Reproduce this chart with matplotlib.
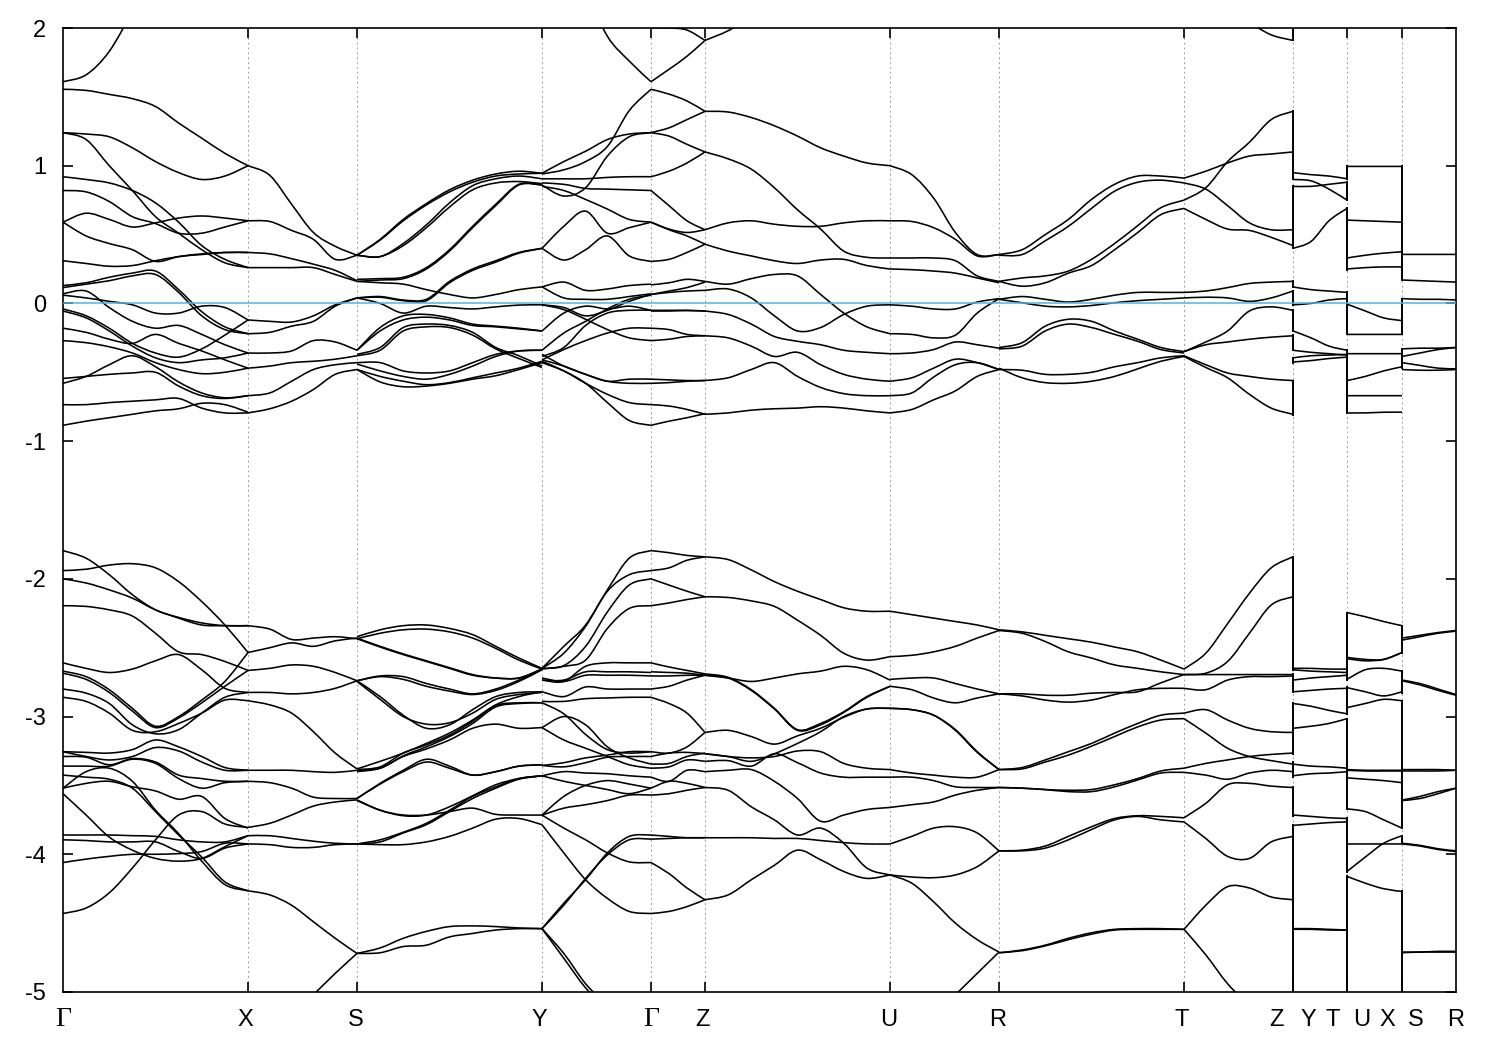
import matplotlib
matplotlib.use('Agg')
import matplotlib.pyplot as plt
from matplotlib.path import Path
from matplotlib.patches import PathPatch
import numpy as np

nan = float('nan')

# k-path, high symmetry points (same scale as the plot width)
kpath = [0, 185, 294, 479, 588, 642, 827, 936, 1121, 1230, 1284, 1339, 1393]
label_text = ['Γ', 'X', 'S', 'Y', 'Γ', 'Z', 'U', 'R', 'T', 'Z', 'Y', 'T', 'U', 'X', 'S', 'R']
label_k = [0, 182, 293, 476, 588, 640, 826, 935, 1119, 1214, 1245, 1270, 1299, 1324, 1353, 1393]
energy_ticks = [2, 1, 0, -1, -2, -3, -4, -5]

# bands read per path segment, eV
gamma_x = [
    [1.61, 1.66, 1.83, 2.12],
    [1.555, 1.547, 1.518, 1.487, 1.43, 1.31, 1.20, 1.09, 1.00],
    [1.24, 1.23, 1.21, 1.13, 1.03, 0.95, 0.90, 0.925, 1.00],
    [1.24, 1.19, 1.00, 0.82, 0.63, 0.51, 0.39, 0.295, 0.26],
    [0.92, 0.90, 0.875, 0.82, 0.73, 0.59, 0.42, 0.32, 0.26],
    [0.82, 0.81, 0.74, 0.63, 0.58, 0.51, 0.51, 0.555, 0.60],
    [0.59, 0.655, 0.61, 0.555, 0.585, 0.62, 0.635, 0.62, 0.60],
    [0.59, 0.49, 0.435, 0.39, 0.305, 0.34, 0.355, 0.37, 0.37],
    [0.31, 0.29, 0.27, 0.275, 0.31, 0.34, 0.36, 0.37, 0.37],
    [0.13, 0.15, 0.19, 0.22, 0.235, 0.10, -0.06, -0.17, -0.22],
    [0.115, 0.14, 0.165, 0.20, 0.21, 0.08, -0.09, -0.19, -0.22],
    [0.07, 0.09, -0.03, -0.13, -0.18, -0.16, -0.225, -0.30, -0.36],
    [0.06, 0.04, 0.015, -0.01, -0.07, -0.07, -0.02, -0.03, -0.12],
    [-0.04, -0.09, -0.18, -0.29, -0.36, -0.39, -0.33, -0.23, -0.12],
    [-0.055, -0.105, -0.20, -0.31, -0.395, -0.43, -0.41, -0.395, -0.36],
    [-0.18, -0.21, -0.26, -0.29, -0.225, -0.29, -0.345, -0.41, -0.47],
    [-0.27, -0.285, -0.315, -0.36, -0.43, -0.48, -0.51, -0.50, -0.47],
    [-0.58, -0.53, -0.445, -0.38, -0.46, -0.57, -0.65, -0.685, -0.67],
    [-0.545, -0.53, -0.515, -0.505, -0.50, -0.60, -0.67, -0.69, -0.67],
    [-0.735, -0.735, -0.72, -0.71, -0.70, -0.69, -0.76, -0.795, -0.795],
    [-0.885, -0.855, -0.83, -0.805, -0.78, -0.765, -0.725, -0.735, -0.79],
    [-1.795, -1.85, -1.97, -2.115, -2.225, -2.28, -2.32, -2.34, -2.34],
    [-1.94, -1.93, -1.90, -1.89, -1.92, -2.02, -2.165, -2.335, -2.535],
    [-2.0, -2.03, -2.08, -2.14, -2.225, -2.285, -2.335, -2.34, -2.34],
    [-2.195, -2.20, -2.225, -2.27, -2.395, -2.53, -2.55, -2.60, -2.665],
    [-2.61, -2.65, -2.68, -2.655, -2.595, -2.55, -2.66, -2.795, -2.825],
    [-2.67, -2.71, -2.805, -2.94, -3.07, -3.0, -2.88, -2.745, -2.535],
    [-2.685, -2.73, -2.825, -2.96, -3.08, -3.01, -2.90, -2.78, -2.665],
    [-2.80, -2.83, -2.905, -3.06, -3.125, -3.095, -2.975, -2.86, -2.825],
    [-2.86, -2.89, -2.975, -3.10, -3.11, -3.05, -2.975, -2.88, -2.885],
    [-3.255, -3.26, -3.265, -3.24, -3.17, -3.22, -3.29, -3.37, -3.39],
    [-3.255, -3.29, -3.315, -3.29, -3.225, -3.25, -3.33, -3.39, -3.39],
    [-3.29, -3.295, -3.35, -3.305, -3.33, -3.425, -3.45, -3.47, -3.47],
    [-3.36, -3.36, -3.36, -3.31, -3.34, -3.45, -3.52, -3.48, -3.47],
    [-3.52, -3.40, -3.375, -3.47, -3.68, -3.85, -4.05, -4.22, -4.265],
    [-3.425, -3.44, -3.455, -3.52, -3.69, -3.86, -4.02, -4.20, -4.265],
    [-3.52, -3.485, -3.47, -3.51, -3.54, -3.60, -3.58, -3.74, -3.81],
    [-3.56, -3.715, -3.875, -3.97, -4.03, -4.05, -4.03, -3.945, -3.865],
    [-4.43, -4.39, -4.28, -4.10, -3.895, -3.715, -3.69, -3.78, -3.805],
    [-3.86, -3.86, -3.86, -3.865, -3.87, -3.895, -3.91, -3.91, -3.865],
    [-3.895, -3.90, -3.91, -3.91, -3.91, -3.98, -4.03, -3.955, -3.925],
    [-4.06, -4.035, -4.015, -4.0, -4.0, -3.995, -3.98, -3.92, -3.925],
]

x_s = [
    [1.00, 0.93, 0.72, 0.515, 0.415, 0.35],
    [0.60, 0.595, 0.53, 0.465, 0.32, 0.35],
    [0.37, 0.36, 0.325, 0.285, 0.24, 0.165],
    [0.26, 0.26, 0.26, 0.26, 0.21, 0.16],
    [-0.12, -0.13, -0.135, -0.09, -0.01, 0.04],
    [-0.22, -0.21, -0.165, -0.13, -0.02, 0.04],
    [-0.36, -0.36, -0.345, -0.27, -0.28, -0.34],
    [-0.47, -0.455, -0.43, -0.42, -0.405, -0.38],
    [-0.67, -0.65, -0.565, -0.48, -0.445, -0.43],
    [-0.795, -0.765, -0.71, -0.625, -0.515, -0.48],
    [-2.34, -2.365, -2.44, -2.43, -2.42, -2.435],
    [-2.535, -2.50, -2.465, -2.49, -2.45, -2.43],
    [-2.665, -2.65, -2.625, -2.635, -2.68, -2.74],
    [-2.825, -2.825, -2.835, -2.825, -2.795, -2.74],
    [-2.885, -2.915, -2.975, -3.11, -3.265, -3.38],
    [-3.39, -3.39, -3.39, -3.40, -3.405, -3.39],
    [-3.47, -3.48, -3.52, -3.585, -3.595, -3.595],
    [-3.805, -3.775, -3.715, -3.65, -3.62, -3.605],
    [-3.865, -3.865, -3.885, -3.905, -3.92, -3.925],
    [-3.925, -3.93, -3.95, -3.95, -3.93, -3.925],
    [-4.265, -4.295, -4.37, -4.49, -4.61, -4.72],
    [nan, nan, nan, -5.02, -4.865, -4.72],
]

s_y = [
    [0.35, 0.465, 0.61, 0.725, 0.825, 0.895, 0.94, 0.96, 0.945],
    [0.35, 0.46, 0.60, 0.715, 0.81, 0.88, 0.925, 0.94, 0.945],
    [0.35, 0.34, 0.435, 0.57, 0.73, 0.855, 0.905, 0.925, 0.905],
    [0.35, 0.34, 0.42, 0.55, 0.70, 0.825, 0.875, 0.885, 0.87],
    [0.175, 0.18, 0.19, 0.26, 0.39, 0.56, 0.72, 0.865, 0.86],
    [0.16, 0.17, 0.18, 0.25, 0.38, 0.55, 0.71, 0.86, 0.86],
    [0.16, 0.15, 0.14, 0.10, 0.065, 0.04, 0.065, 0.10, 0.12],
    [0.04, 0.05, 0.025, 0.03, 0.16, 0.25, 0.31, 0.37, 0.40],
    [0.04, 0.045, 0.02, 0.02, 0.15, 0.24, 0.30, 0.365, 0.40],
    [0.04, 0.0, -0.07, -0.02, -0.03, -0.04, -0.025, -0.012, -0.01],
    [-0.34, -0.175, -0.09, -0.08, -0.105, -0.15, -0.165, -0.18, -0.20],
    [-0.34, -0.20, -0.12, -0.10, -0.12, -0.16, -0.17, -0.185, -0.20],
    [-0.37, -0.32, -0.175, -0.15, -0.16, -0.21, -0.32, -0.38, -0.455],
    [-0.38, -0.34, -0.20, -0.17, -0.175, -0.23, -0.33, -0.40, -0.465],
    [-0.44, -0.49, -0.53, -0.55, -0.515, -0.455, -0.385, -0.345, -0.34],
    [-0.43, -0.43, -0.49, -0.505, -0.49, -0.43, -0.37, -0.345, -0.34],
    [-0.48, -0.53, -0.565, -0.59, -0.575, -0.54, -0.505, -0.47, -0.42],
    [-0.48, -0.57, -0.605, -0.60, -0.58, -0.55, -0.525, -0.48, -0.43],
    [-2.42, -2.37, -2.34, -2.335, -2.36, -2.405, -2.49, -2.575, -2.65],
    [-2.435, -2.395, -2.37, -2.365, -2.385, -2.43, -2.505, -2.59, -2.655],
    [-2.435, -2.495, -2.55, -2.60, -2.65, -2.70, -2.72, -2.72, -2.655],
    [-2.43, -2.49, -2.545, -2.595, -2.645, -2.695, -2.72, -2.72, -2.655],
    [-2.74, -2.705, -2.71, -2.76, -2.80, -2.835, -2.80, -2.735, -2.655],
    [-2.74, -2.71, -2.73, -2.78, -2.815, -2.84, -2.81, -2.745, -2.66],
    [-2.74, -2.855, -2.99, -3.085, -3.06, -2.95, -2.855, -2.825, -2.82],
    [-2.745, -2.875, -3.0, -3.055, -3.045, -2.975, -2.875, -2.84, -2.825],
    [-3.38, -3.325, -3.265, -3.195, -3.12, -3.025, -2.915, -2.855, -2.82],
    [-3.39, -3.375, -3.285, -3.22, -3.145, -3.05, -2.93, -2.905, -2.90],
    [-3.385, -3.365, -3.265, -3.205, -3.135, -3.035, -2.92, -2.90, -2.90],
    [-3.40, -3.375, -3.29, -3.235, -3.17, -3.085, -3.055, -3.085, -3.08],
    [-3.595, -3.485, -3.39, -3.31, -3.36, -3.425, -3.40, -3.36, -3.35],
    [-3.595, -3.49, -3.40, -3.33, -3.375, -3.425, -3.40, -3.36, -3.35],
    [-3.605, -3.68, -3.715, -3.715, -3.69, -3.665, -3.71, -3.715, -3.715],
    [-3.61, -3.68, -3.72, -3.715, -3.655, -3.575, -3.495, -3.45, -3.43],
    [-3.925, -3.895, -3.84, -3.775, -3.68, -3.58, -3.51, -3.45, -3.43],
    [-3.925, -3.91, -3.845, -3.785, -3.69, -3.595, -3.52, -3.455, -3.43],
    [-3.925, -3.93, -3.93, -3.91, -3.87, -3.81, -3.745, -3.74, -3.785],
    [-4.72, -4.715, -4.67, -4.66, -4.60, -4.575, -4.55, -4.54, -4.54],
    [-4.72, -4.68, -4.61, -4.56, -4.525, -4.52, -4.525, -4.535, -4.54],
]

y_gamma = [
    [nan, nan, 2.28, 1.94, 1.76, 1.61],
    [0.945, 1.03, 1.105, 1.19, 1.23, 1.24],
    [0.94, 0.97, 1.03, 1.14, 1.40, 1.555],
    [0.86, 0.78, 0.84, 1.07, 1.21, 1.24],
    [0.875, 0.865, 0.835, 0.83, 0.825, 0.82],
    [0.905, 0.905, 0.905, 0.915, 0.92, 0.92],
    [0.85, 0.82, 0.755, 0.685, 0.61, 0.59],
    [0.40, 0.56, 0.67, 0.51, 0.55, 0.59],
    [0.40, 0.315, 0.39, 0.49, 0.345, 0.305],
    [0.12, 0.155, 0.095, 0.105, 0.13, 0.14],
    [0.12, 0.04, 0.03, 0.03, 0.05, 0.07],
    [-0.01, -0.03, -0.09, -0.05, 0.015, 0.065],
    [-0.20, -0.07, -0.02, -0.04, -0.02, -0.05],
    [-0.34, -0.215, -0.13, -0.04, 0.03, 0.06],
    [-0.385, -0.32, -0.16, -0.07, -0.05, -0.05],
    [-0.41, -0.335, -0.27, -0.215, -0.18, -0.18],
    [-0.01, -0.045, -0.115, -0.19, -0.25, -0.27],
    [-0.41, -0.455, -0.515, -0.565, -0.55, -0.55],
    [-0.37, -0.455, -0.515, -0.565, -0.58, -0.58],
    [-0.42, -0.49, -0.58, -0.66, -0.72, -0.735],
    [-0.43, -0.49, -0.58, -0.72, -0.85, -0.885],
    [-2.65, -2.49, -2.335, -2.08, -1.85, -1.795],
    [-2.65, -2.54, -2.345, -2.09, -1.97, -1.94],
    [-2.65, -2.63, -2.49, -2.24, -2.045, -2.0],
    [-2.655, -2.635, -2.59, -2.36, -2.215, -2.195],
    [-2.735, -2.745, -2.635, -2.61, -2.61, -2.61],
    [-2.735, -2.735, -2.675, -2.675, -2.675, -2.68],
    [-2.72, -2.745, -2.70, -2.70, -2.70, -2.705],
    [-2.82, -2.855, -2.785, -2.80, -2.80, -2.80],
    [-2.89, -2.89, -2.87, -2.865, -2.86, -2.86],
    [-2.90, -2.98, -3.13, -3.24, -3.265, -3.255],
    [-3.08, -3.0, -3.06, -3.22, -3.30, -3.345],
    [-3.08, -3.17, -3.23, -3.29, -3.35, -3.375],
    [-3.355, -3.335, -3.30, -3.28, -3.255, -3.255],
    [-3.355, -3.365, -3.335, -3.295, -3.29, -3.29],
    [-3.43, -3.40, -3.41, -3.415, -3.43, -3.44],
    [-3.43, -3.47, -3.50, -3.53, -3.56, -3.52],
    [-3.715, -3.58, -3.50, -3.465, -3.49, -3.52],
    [-3.715, -3.665, -3.64, -3.61, -3.57, -3.57],
    [-3.715, -3.81, -3.895, -3.99, -4.055, -4.06],
    [-3.785, -3.99, -4.185, -4.32, -4.415, -4.43],
    [-4.54, -4.355, -4.185, -3.99, -3.87, -3.86],
    [-4.54, -4.37, -4.175, -4.005, -3.895, -3.89],
    [-4.54, -4.72, -4.94, -5.1],
    [-4.54, -4.755, -4.97, -5.13],
]

gamma_z = [
    [1.555, 1.52, 1.47, 1.395],
    [1.24, 1.275, 1.335, 1.395],
    [1.24, 1.215, 1.155, 1.10],
    [0.92, 0.96, 1.02, 1.10],
    [0.82, 0.71, 0.60, 0.535],
    [0.59, 0.54, 0.515, 0.535],
    [0.59, 0.535, 0.49, 0.43],
    [0.305, 0.32, 0.37, 0.43],
    [1.61, 1.70, 1.795, 1.91],
    [2.0, 2.0, 1.985, 1.91],
    [0.135, 0.15, 0.175, 0.16],
    [0.065, 0.09, 0.115, 0.155],
    [0.065, 0.08, 0.09, 0.095],
    [-0.05, -0.05, -0.05, -0.055],
    [-0.055, -0.055, -0.052, -0.055],
    [-0.18, -0.19, -0.225, -0.235],
    [-0.27, -0.26, -0.24, -0.235],
    [-0.55, -0.555, -0.56, -0.56],
    [-0.58, -0.575, -0.565, -0.56],
    [-0.735, -0.745, -0.77, -0.805],
    [-0.885, -0.855, -0.83, -0.80],
    [-1.795, -1.81, -1.83, -1.84],
    [-1.94, -1.92, -1.865, -1.84],
    [-2.0, -2.045, -2.09, -2.13],
    [-2.195, -2.175, -2.15, -2.13],
    [-2.61, -2.64, -2.665, -2.69],
    [-2.675, -2.68, -2.685, -2.70],
    [-2.705, -2.705, -2.70, -2.70],
    [-2.80, -2.78, -2.735, -2.70],
    [-2.86, -2.905, -2.975, -3.115],
    [-3.255, -3.265, -3.22, -3.115],
    [-3.29, -3.265, -3.26, -3.27],
    [-3.345, -3.34, -3.29, -3.265],
    [-3.375, -3.365, -3.315, -3.325],
    [-3.44, -3.47, -3.39, -3.40],
    [-3.52, -3.47, -3.485, -3.515],
    [-3.57, -3.56, -3.535, -3.515],
    [-3.86, -3.87, -3.88, -3.88],
    [-3.89, -3.885, -3.88, -3.88],
    [-4.06, -4.14, -4.245, -4.33],
    [-4.43, -4.415, -4.38, -4.33],
]

z_u = [
    [1.91, 1.98, 2.08],
    [1.395, 1.39, 1.35, 1.29, 1.215, 1.13, 1.07, 1.02, 1.00],
    [1.10, 1.05, 0.975, 0.84, 0.68, 0.54, 0.38, 0.335, 0.33],
    [0.535, 0.585, 0.60, 0.575, 0.56, 0.56, 0.585, 0.60, 0.60],
    [0.43, 0.38, 0.345, 0.31, 0.29, 0.315, 0.32, 0.275, 0.25],
    [0.16, 0.14, 0.18, 0.21, 0.20, 0.065, -0.07, -0.17, -0.22],
    [0.095, 0.105, 0.04, -0.09, -0.20, -0.175, -0.08, -0.02, -0.01],
    [-0.055, -0.08, -0.15, -0.24, -0.275, -0.30, -0.34, -0.355, -0.365],
    [-0.235, -0.25, -0.31, -0.385, -0.355, -0.445, -0.515, -0.55, -0.565],
    [-0.56, -0.54, -0.48, -0.43, -0.53, -0.61, -0.655, -0.67, -0.67],
    [-0.805, -0.795, -0.775, -0.765, -0.76, -0.75, -0.76, -0.78, -0.795],
    [-1.84, -1.86, -1.935, -2.02, -2.09, -2.15, -2.21, -2.235, -2.235],
    [-2.13, -2.135, -2.16, -2.20, -2.30, -2.41, -2.54, -2.59, -2.565],
    [-2.69, -2.715, -2.805, -2.94, -3.095, -3.05, -2.965, -2.855, -2.78],
    [-2.70, -2.72, -2.81, -2.945, -3.10, -3.06, -2.97, -2.86, -2.78],
    [-2.70, -2.72, -2.745, -2.72, -2.69, -2.67, -2.635, -2.66, -2.735],
    [-3.115, -3.10, -3.145, -3.20, -3.14, -3.085, -3.005, -2.945, -2.94],
    [-3.27, -3.29, -3.325, -3.27, -3.195, -3.11, -3.0, -2.945, -2.94],
    [-3.325, -3.32, -3.36, -3.27, -3.335, -3.41, -3.44, -3.44, -3.44],
    [-3.27, -3.29, -3.30, -3.29, -3.25, -3.255, -3.34, -3.375, -3.385],
    [-3.40, -3.39, -3.385, -3.47, -3.595, -3.76, -3.715, -3.675, -3.66],
    [-3.515, -3.535, -3.655, -3.75, -3.86, -3.81, -3.92, -4.10, -4.15],
    [-3.88, -3.88, -3.88, -3.885, -3.885, -3.90, -3.915, -3.925, -3.925],
    [-4.33, -4.295, -4.185, -4.08, -3.97, -4.04, -4.125, -4.175, -4.15],
]

u_r = [
    [1.00, 0.935, 0.765, 0.515, 0.355, 0.355],
    [0.60, 0.595, 0.55, 0.465, 0.345, 0.355],
    [0.33, 0.33, 0.33, 0.31, 0.20, 0.16],
    [0.25, 0.245, 0.235, 0.22, 0.185, 0.15],
    [-0.01, -0.02, -0.04, -0.04, 0.01, 0.035],
    [-0.22, -0.225, -0.25, -0.23, -0.07, 0.035],
    [-0.365, -0.36, -0.335, -0.28, -0.30, -0.325],
    [-0.565, -0.54, -0.47, -0.405, -0.43, -0.48],
    [-0.67, -0.65, -0.535, -0.445, -0.43, -0.48],
    [-0.795, -0.77, -0.70, -0.635, -0.53, -0.48],
    [-2.235, -2.26, -2.285, -2.31, -2.335, -2.37],
    [-2.565, -2.555, -2.53, -2.49, -2.43, -2.375],
    [-2.73, -2.72, -2.72, -2.76, -2.80, -2.835],
    [-2.78, -2.805, -2.865, -2.90, -2.865, -2.835],
    [-2.94, -2.95, -2.99, -3.095, -3.255, -3.385],
    [-2.94, -2.95, -2.99, -3.10, -3.26, -3.385],
    [-3.385, -3.41, -3.425, -3.44, -3.44, -3.385],
    [-3.44, -3.44, -3.465, -3.51, -3.515, -3.515],
    [-3.66, -3.64, -3.62, -3.57, -3.535, -3.515],
    [-3.925, -3.87, -3.81, -3.80, -3.845, -3.975],
    [-4.15, -4.165, -4.17, -4.15, -4.09, -3.975],
    [-4.15, -4.21, -4.345, -4.50, -4.62, -4.71],
    [nan, nan, nan, -5.02, -4.865, -4.71],
]

r_t = [
    [0.355, 0.39, 0.50, 0.61, 0.755, 0.865, 0.925, 0.925, 0.91],
    [0.35, 0.355, 0.455, 0.56, 0.69, 0.815, 0.88, 0.895, 0.875],
    [0.16, 0.185, 0.20, 0.235, 0.32, 0.435, 0.565, 0.695, 0.75],
    [0.16, 0.125, 0.15, 0.22, 0.275, 0.39, 0.515, 0.645, 0.69],
    [0.03, 0.05, 0.03, 0.01, 0.03, 0.06, 0.08, 0.08, 0.08],
    [0.03, 0.005, -0.02, -0.025, -0.015, 0.005, 0.02, 0.03, 0.04],
    [-0.32, -0.285, -0.165, -0.115, -0.13, -0.20, -0.26, -0.32, -0.35],
    [-0.33, -0.31, -0.20, -0.15, -0.175, -0.225, -0.275, -0.335, -0.36],
    [-0.48, -0.485, -0.515, -0.515, -0.50, -0.46, -0.43, -0.395, -0.38],
    [-0.47, -0.54, -0.575, -0.58, -0.565, -0.53, -0.475, -0.42, -0.385],
    [-2.37, -2.385, -2.41, -2.435, -2.46, -2.495, -2.53, -2.59, -2.655],
    [-2.375, -2.395, -2.455, -2.53, -2.575, -2.625, -2.65, -2.675, -2.695],
    [-2.835, -2.835, -2.845, -2.845, -2.83, -2.825, -2.82, -2.755, -2.695],
    [-2.835, -2.85, -2.88, -2.895, -2.88, -2.84, -2.805, -2.795, -2.795],
    [-3.385, -3.37, -3.315, -3.255, -3.195, -3.12, -3.05, -2.99, -2.975],
    [-3.385, -3.38, -3.33, -3.28, -3.215, -3.145, -3.075, -3.025, -3.015],
    [-3.515, -3.52, -3.53, -3.535, -3.53, -3.495, -3.45, -3.395, -3.375],
    [-3.515, -3.52, -3.53, -3.545, -3.545, -3.51, -3.46, -3.41, -3.405],
    [-3.975, -3.97, -3.94, -3.87, -3.80, -3.74, -3.72, -3.725, -3.735],
    [-3.975, -3.975, -3.955, -3.895, -3.82, -3.75, -3.725, -3.75, -3.765],
    [-4.715, -4.695, -4.66, -4.61, -4.57, -4.545, -4.54, -4.54, -4.545],
    [-4.715, -4.70, -4.665, -4.62, -4.58, -4.55, -4.545, -4.545, -4.545],
]

t_z = [
    [nan, nan, nan, 2.04, 1.95, 1.91],
    [0.75, 0.84, 1.03, 1.17, 1.335, 1.395],
    [0.91, 0.96, 1.02, 1.07, 1.085, 1.10],
    [0.875, 0.83, 0.71, 0.585, 0.535, 0.535],
    [0.69, 0.61, 0.54, 0.53, 0.48, 0.42],
    [0.08, 0.09, 0.115, 0.145, 0.155, 0.16],
    [0.04, 0.045, 0.04, 0.015, 0.04, 0.09],
    [-0.35, -0.28, -0.20, -0.055, -0.025, -0.05],
    [-0.35, -0.30, -0.28, -0.26, -0.245, -0.235],
    [-0.38, -0.445, -0.505, -0.53, -0.55, -0.56],
    [-0.385, -0.465, -0.54, -0.66, -0.76, -0.805],
    [-2.655, -2.54, -2.325, -2.105, -1.92, -1.84],
    [-2.695, -2.685, -2.60, -2.395, -2.19, -2.13],
    [-2.695, -2.695, -2.695, -2.695, -2.695, -2.695],
    [-2.795, -2.805, -2.735, -2.71, -2.71, -2.705],
    [-2.975, -2.95, -3.025, -3.085, -3.11, -3.115],
    [-3.015, -3.12, -3.23, -3.29, -3.32, -3.345],
    [-3.375, -3.34, -3.315, -3.29, -3.275, -3.265],
    [-3.405, -3.425, -3.455, -3.41, -3.39, -3.40],
    [-3.735, -3.63, -3.495, -3.485, -3.505, -3.515],
    [-3.765, -3.885, -4.015, -4.03, -3.91, -3.87],
    [-4.545, -4.37, -4.235, -4.245, -4.31, -4.33],
    [-4.545, -4.73, -4.94, -5.1],
]

y_t = [
    [0.95, 0.935, 0.925, 0.905],
    [0.90, 0.89, 0.83, 0.75],
    [0.85, 0.85, 0.865, 0.88],
    [0.40, 0.45, 0.60, 0.69],
    [0.12, 0.10, 0.09, 0.08],
    [-0.01, 0.0, 0.025, 0.035],
    [-0.20, -0.25, -0.31, -0.34],
    [-0.34, -0.355, -0.365, -0.375],
    [-0.395, -0.38, -0.375, -0.37],
    [-0.425, -0.415, -0.40, -0.39],
    [-2.65, -2.65, -2.655, -2.655],
    [-2.66, -2.67, -2.675, -2.68],
    [-2.735, -2.72, -2.71, -2.70],
    [-2.82, -2.81, -2.80, -2.795],
    [-2.905, -2.925, -2.955, -2.98],
    [-3.085, -3.07, -3.05, -3.015],
    [-3.345, -3.36, -3.365, -3.375],
    [-3.43, -3.415, -3.41, -3.40],
    [-3.715, -3.725, -3.735, -3.74],
    [-3.79, -3.78, -3.77, -3.765],
    [-4.545, -4.545, -4.55, -4.55],
    [-4.54, -4.54, -4.545, -4.55],
]

u_x = [
    [0.995, 0.995, 0.995, 0.995],
    [0.605, 0.60, 0.595, 0.59],
    [0.33, 0.35, 0.365, 0.375],
    [0.25, 0.26, 0.265, 0.265],
    [-0.005, -0.055, -0.105, -0.125],
    [-0.225, -0.225, -0.225, -0.225],
    [-0.365, -0.365, -0.365, -0.365],
    [-0.56, -0.53, -0.49, -0.46],
    [-0.67, -0.67, -0.67, -0.67],
    [-0.795, -0.795, -0.79, -0.79],
    [-2.245, -2.275, -2.31, -2.34],
    [-2.57, -2.585, -2.585, -2.535],
    [-2.58, -2.595, -2.585, -2.535],
    [-2.73, -2.66, -2.65, -2.67],
    [-2.79, -2.82, -2.85, -2.82],
    [-2.935, -2.905, -2.875, -2.885],
    [-3.39, -3.395, -3.395, -3.395],
    [-3.385, -3.39, -3.39, -3.39],
    [-3.445, -3.455, -3.465, -3.48],
    [-3.67, -3.69, -3.75, -3.81],
    [-3.925, -3.925, -3.925, -3.925],
    [-4.125, -4.02, -3.92, -3.865],
    [-4.16, -4.21, -4.25, -4.27],
]

s_r = [
    [0.356, 0.356, 0.356, 0.356],
    [0.17, 0.165, 0.16, 0.155],
    [0.035, 0.03, 0.03, 0.025],
    [-0.33, -0.325, -0.325, -0.32],
    [-0.385, -0.36, -0.335, -0.32],
    [-0.43, -0.45, -0.47, -0.475],
    [-0.48, -0.485, -0.485, -0.48],
    [-2.43, -2.41, -2.39, -2.375],
    [-2.445, -2.42, -2.395, -2.38],
    [-2.735, -2.76, -2.80, -2.84],
    [-2.74, -2.77, -2.81, -2.845],
    [-3.385, -3.385, -3.385, -3.39],
    [-3.395, -3.395, -3.395, -3.39],
    [-3.606, -3.58, -3.545, -3.52],
    [-3.61, -3.595, -3.56, -3.52],
    [-3.925, -3.94, -3.965, -3.98],
    [-3.92, -3.935, -3.96, -3.975],
    [-4.715, -4.71, -4.71, -4.71],
    [-4.71, -4.71, -4.705, -4.705],
]

# vertical joins where the path jumps (Z|Y, T|U, X|S)
jump_zy = [(2.0, 1.91), (1.395, 0.90), (0.85, 0.40), (0.16, 0.12), (0.09, -0.01), (-0.05, -0.20),
           (-0.23, -0.34), (-0.395, -0.43), (-0.56, -0.81), (-1.84, -2.66), (-2.69, -2.82),
           (-2.90, -3.27), (-3.33, -3.44), (-3.51, -3.72), (-3.79, -5.0)]
jump_tu = [(0.995, 0.905), (0.88, 0.75), (0.69, 0.245), (0.08, -0.225), (-0.335, -0.795),
           (-2.245, -2.735), (-2.785, -2.98), (-3.015, -3.67), (-3.74, -4.125), (-4.16, -5.0)]
jump_xs = [(0.995, 0.17), (0.035, -0.225), (-0.33, -0.47), (-2.34, -2.54), (-2.67, -2.83),
           (-2.885, -3.81), (-3.865, -3.92), (-4.27, -5.0)]

segments = [gamma_x, x_s, s_y, y_gamma, gamma_z, z_u, u_r, r_t, t_z, y_t, u_x, s_r]
jumps = {9: jump_zy, 10: jump_tu, 11: jump_xs}


def band_path(k, e):
    # smooth bezier through the read values, the curve passes through each of them
    pts = [(a, b) for a, b in zip(k, e) if b == b]
    verts = [pts[0]]
    codes = [Path.MOVETO]
    for j in range(len(pts) - 1):
        p0 = pts[max(j - 1, 0)]
        p1 = pts[j]
        p2 = pts[j + 1]
        p3 = pts[min(j + 2, len(pts) - 1)]
        verts.append((p1[0] + (p2[0] - p0[0]) / 6, p1[1] + (p2[1] - p0[1]) / 6))
        verts.append((p2[0] - (p3[0] - p1[0]) / 6, p2[1] - (p3[1] - p1[1]) / 6))
        verts.append(p2)
        codes += [Path.CURVE4, Path.CURVE4, Path.CURVE4]
    return Path(verts, codes)


plt.rcParams['font.family'] = ['Liberation Sans', 'DejaVu Sans']

fig = plt.figure(figsize=(15, 10.5), dpi=100)
ax = fig.add_axes([63 / 1500, 1 - 992 / 1050, 1393 / 1500, 964 / 1050])

for i in range(1, len(kpath) - 1):
    ax.axvline(kpath[i], color='#a0a0a0', lw=0.7, dashes=(2, 3), zorder=1)

for i, bands in enumerate(segments):
    full = max(len(r) for r in bands)
    for row in bands:
        k = np.linspace(kpath[i], kpath[i + 1], full)[:len(row)]
        ax.add_patch(PathPatch(band_path(k, row), fill=False, edgecolor='black', lw=1.15, zorder=2))

for i, spans in jumps.items():
    for top, bottom in spans:
        ax.plot([kpath[i], kpath[i]], [top, bottom], color='black', lw=1.4, zorder=2)

ax.axhline(0, color='#56B0E0', lw=1.1, zorder=3)

ax.set_xlim(kpath[0], kpath[-1])
ax.set_ylim(-5, 2)
ax.set_xticks(kpath[1:-1])
ax.set_xticklabels([])
ax.set_yticks(energy_ticks)
ax.set_yticklabels([str(v) for v in energy_ticks], fontsize=17)
ax.tick_params(axis='both', direction='in', length=7.2, width=1.2, top=True, right=True, pad=12)
for side in ax.spines.values():
    side.set_linewidth(1.2)

for name, pos in zip(label_text, label_k):
    if name == 'Γ':
        ax.text(pos, -5.2, name, ha='center', va='center', fontsize=20, family='Liberation Serif', clip_on=False)
    else:
        ax.text(pos, -5.2, name, ha='center', va='center', fontsize=17, clip_on=False)

fig.savefig('out.png', dpi=100)
